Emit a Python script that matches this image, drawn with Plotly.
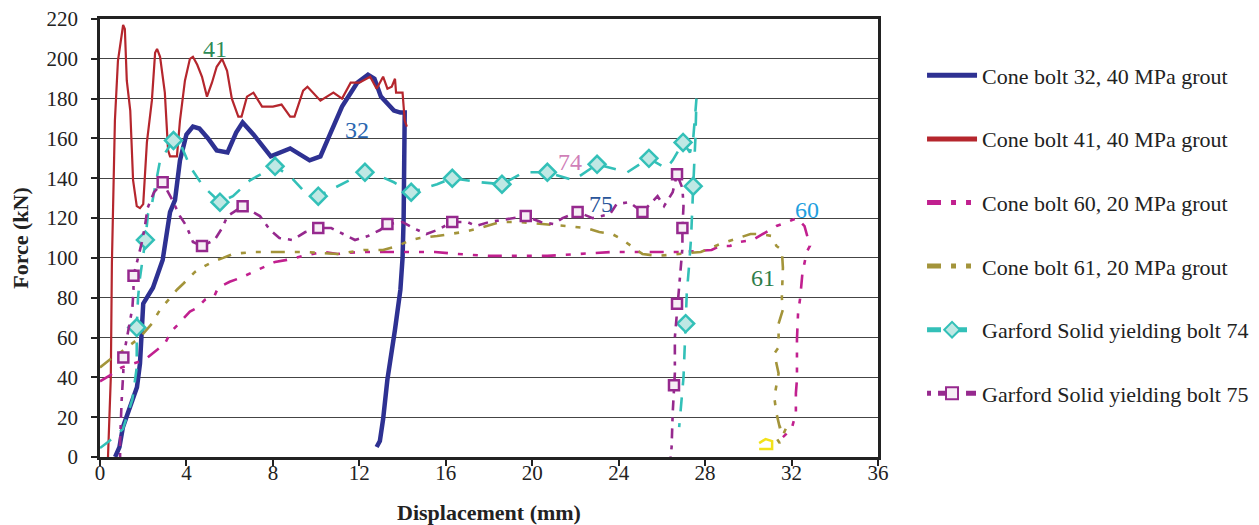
import plotly.graph_objects as go

# ---------------- data ----------------
cb32_x = [0.7, 0.9, 1.06, 1.4, 1.71, 1.85, 2.0, 2.45, 2.9, 3.24, 3.47, 3.7, 4.0, 4.3, 4.6,
          5.0, 5.4, 5.9, 6.3, 6.6, 7.1, 7.9, 8.8, 9.7, 10.2, 10.6, 11.2, 11.9, 12.4, 12.7,
          13.0, 13.6, 13.9, 14.1, 14.1, 14.05, 14.0, 13.9, 13.65, 13.3, 13.1, 12.95, 12.8]
cb32_y = [0, 5, 15, 25, 35, 47, 77, 85, 99, 123, 129, 149, 162, 166, 165,
          160, 154, 153, 163, 168, 162, 151, 155, 149, 151, 161, 176, 188, 192, 190,
          181, 174, 173, 173, 150, 120, 100, 84, 64, 39, 19, 8, 5]

cb41_x = [0.37, 0.45, 0.5, 0.55, 0.6, 0.69, 0.83, 1.0, 1.07, 1.15, 1.24, 1.4, 1.53, 1.7, 1.85,
          2.0, 2.17, 2.4, 2.55, 2.64, 2.78, 3.0, 3.15, 3.24, 3.56, 3.7, 3.93, 4.16, 4.3, 4.5,
          4.72, 4.95, 5.18, 5.4, 5.65, 5.88, 6.1, 6.4, 6.55, 6.8, 7.1, 7.5, 8.0, 8.4, 8.8,
          9.0, 9.4, 9.6, 10.2, 10.8, 11.2, 11.6, 12.0, 12.5, 12.8, 13.1, 13.3, 13.5, 13.65, 13.7,
          13.9, 14.0, 14.1, 14.2]
cb41_y = [0, 20, 40, 97, 129, 169, 199, 211, 217, 215, 189, 174, 139, 126, 125,
          127, 158, 179, 203, 205, 201, 183, 154, 151, 151, 169, 189, 200, 201, 197,
          191, 181, 188, 196, 200, 194, 180, 171, 171, 181, 183, 176, 176, 177, 171,
          171, 184, 186, 179, 183, 180, 188, 188, 191, 185, 191, 185, 186, 190, 183,
          183, 183, 169, 166]

cb60_x = [0, 0.46, 1.0, 1.85, 2.2, 2.55, 3.0, 3.3, 3.8, 4.16, 4.5, 4.86, 5.3, 5.46, 6.0,
          6.5, 7.1, 7.5, 8.1, 8.65, 9.4, 10.3, 11.0, 12.0, 13.4, 14.5, 15.5, 16.5, 18.0, 20.7,
          22.0, 23.7, 25.6, 26.5, 27.0, 28.3, 28.7, 29.15, 29.6, 30.2, 30.7, 31.3, 31.8, 32.25, 32.6,
          32.85, 32.7, 32.5, 32.4, 32.3, 32.25, 32.25, 32.25, 32.2, 32.2, 32.0, 31.6]
cb60_y = [38, 41, 45, 48, 50, 53, 57, 63, 69, 73, 75, 79, 81, 85, 88,
          90, 93, 95, 98, 99, 101, 103, 102, 103, 103, 103, 103, 102, 101, 101,
          102, 103, 103, 103, 103, 104, 106, 106, 108, 109, 112, 116, 118, 120, 116,
          106, 103, 92, 80, 72, 59, 47, 39, 32, 22, 14, 10]

cb61_x = [0, 0.46, 1.0, 1.5, 1.85, 2.0, 2.4, 2.78, 3.1, 3.56, 3.85, 4.4, 4.86, 5.2, 5.7,
          6.15, 7.1, 8.2, 9.4, 11.0, 12.2, 13.1, 13.75, 14.4, 14.8, 15.6, 16.8, 17.6, 18.5, 19.4,
          20.7, 21.6, 22.5, 23.1, 23.7, 24.2, 24.7, 25.1, 25.8, 26.7, 27.8, 28.7, 29.5, 30.1, 30.5,
          31.1, 31.3, 31.55, 31.6, 31.55, 31.6, 31.4, 31.4, 31.2, 31.4, 31.2, 31.3, 31.45, 31.8, 31.45,
          31.15]
cb61_y = [45, 49, 53, 57, 60, 62, 67, 74, 78, 84, 87, 93, 96, 98, 100,
          102, 103, 103, 103, 102, 104, 104, 106, 109, 110, 111, 113, 115, 118, 118,
          117, 116, 115, 113, 112, 109, 105, 102, 101, 102, 103, 107, 110, 112, 112,
          111, 106, 104, 95, 80, 74, 67, 55, 52, 42, 30, 22, 15, 16, 7,
          12]

g74_x = [0, 0.37, 1.06, 1.5, 1.7, 1.7, 1.76, 1.85, 2.1, 2.22, 2.4, 2.78, 3.4, 3.7, 4.16,
         4.77, 5.55, 6.15, 6.94, 8.1, 8.8, 9.4, 10.1, 10.97, 11.9, 12.26, 12.96, 13.6, 14.4, 15.6,
         16.3, 17.6, 18.6, 19.6, 20.7, 21.9, 23.0, 24.4, 25.4, 26.2, 26.5, 26.98, 27.3, 27.45, 27.6,
         27.55, 27.45, 27.35, 27.25, 27.15, 27.1, 27.0, 26.8]
g74_y = [4.5, 7.5, 14, 29, 45, 65, 80, 90, 109, 122, 127, 149, 159, 158, 146,
         136, 128, 131, 139, 146, 141, 134, 131, 136, 141, 143, 141, 138, 133, 137,
         140, 138, 137, 143, 143, 139, 147, 143, 150, 145, 149, 158, 153, 160, 180,
         160, 136, 110, 95, 82, 67, 40, 15]
g74_marks = [5, 8, 12, 16, 19, 22, 25, 28, 30, 32, 34, 36, 38, 41, 46, 50]

g75_x = [0.93, 0.93, 1.0, 1.08, 1.08, 1.5, 1.55, 1.55, 1.76, 1.94, 2.08, 2.2, 2.5, 2.9, 3.3,
         3.7, 4.0, 4.3, 4.72, 5.3, 5.65, 5.9, 6.6, 7.4, 7.87, 8.3, 8.9, 9.5, 10.1, 10.7,
         11.25, 11.8, 12.4, 12.96, 13.3, 14.0, 14.5, 15.1, 15.6, 16.3, 17.0, 17.4, 18.0, 19.1, 19.7,
         20.4, 21.0, 21.4, 22.1, 22.8, 23.6, 23.9, 24.5, 25.1, 25.8, 26.1, 26.5, 26.7, 26.95, 27.0,
         26.95, 26.95, 26.85, 26.7, 26.6, 26.6, 26.56, 26.5, 26.45, 26.4]
g75_y = [0, 8, 28, 43, 50, 75, 84, 91, 100, 108, 116, 125, 133, 138, 130,
         121, 116, 108, 106, 109, 115, 121, 126, 121, 114, 110, 109, 113, 115, 115,
         112, 109, 111, 114, 117, 118, 115, 112, 114, 118, 118, 116, 118, 120, 121,
         118, 117, 120, 123, 120, 122, 127, 128, 123, 131, 126, 133, 142, 135, 126,
         115, 105, 92, 77, 60, 42, 36, 22, 5, 0]
g75_marks = [4, 7, 13, 18, 22, 28, 34, 39, 44, 48, 53, 57, 60, 63, 66]

stray_x = [30.5, 31.1, 31.1, 30.8, 30.5]
stray_y = [4, 4, 8, 9, 7]

x_ticks = [0, 4, 8, 12, 16, 20, 24, 28, 32, 36]
y_ticks = [0, 20, 40, 60, 80, 100, 120, 140, 160, 180, 200, 220]

labels = ["41", "32", "74", "75", "60", "61"]
label_x = [5.3, 11.9, 21.75, 23.2, 32.7, 30.7]
label_y = [205, 164, 148, 127, 124, 90]
label_colors = ["#2e8b57", "#2a66b0", "#d07fb8", "#2a559a", "#1ea0e0", "#2e7d4a"]

names = ["Cone bolt 32, 40 MPa grout", "Cone bolt 41, 40 MPa grout",
         "Cone bolt 60, 20 MPa grout", "Cone bolt 61, 20 MPa grout",
         "Garford Solid yielding bolt 74", "Garford Solid yielding bolt 75"]

# ---------------- figure ----------------
FONT = "Liberation Serif"
fig = go.Figure()

fig.add_trace(go.Scatter(x=cb32_x, y=cb32_y, mode="lines", name=names[0], legendgroup="a",
                         line=dict(color="#2e3192", width=4.5)))
fig.add_trace(go.Scatter(x=cb41_x, y=cb41_y, mode="lines", name=names[1], legendgroup="b",
                         line=dict(color="#b5262d", width=2.2)))
fig.add_trace(go.Scatter(x=cb60_x, y=cb60_y, mode="lines", name=names[2], legendgroup="c",
                         line=dict(color="#c1208f", width=2.6, dash="14px,10px,5px,10px,5px,10px")))
fig.add_trace(go.Scatter(x=cb61_x, y=cb61_y, mode="lines", name=names[3], legendgroup="d",
                         line=dict(color="#a3943a", width=2.6, dash="14px,10px,5px,10px,5px,10px")))
fig.add_trace(go.Scatter(x=g74_x, y=g74_y, mode="lines+markers", name=names[4], legendgroup="e",
                         line=dict(color="#33c0b8", width=2.6, dash="14px,12px"),
                         marker=dict(symbol="diamond", size=13, color="#bfe8e4",
                                     line=dict(color="#33c0b8", width=2.5)),
                         selectedpoints=g74_marks,
                         selected=dict(marker=dict(opacity=1)),
                         unselected=dict(marker=dict(opacity=0))))
fig.add_trace(go.Scatter(x=g75_x, y=g75_y, mode="lines+markers", name=names[5], legendgroup="f",
                         line=dict(color="#96298e", width=2.6, dash="4px,7px,10px,7px"),
                         marker=dict(symbol="square", size=10, color="#f6eef5",
                                     line=dict(color="#96298e", width=2.5)),
                         selectedpoints=g75_marks,
                         selected=dict(marker=dict(opacity=1)),
                         unselected=dict(marker=dict(opacity=0))))
fig.add_trace(go.Scatter(x=stray_x, y=stray_y, mode="lines", showlegend=False,
                         line=dict(color="#f2e21a", width=2.5), hoverinfo="skip"))

for t, lx, ly, c in zip(labels, label_x, label_y, label_colors):
    fig.add_annotation(x=lx, y=ly, text=t, showarrow=False,
                       font=dict(family=FONT, size=24, color=c))

# the page body adds an 8 px margin, so the figure is offset by 8 px here
fig.update_layout(
    width=1259, height=525,
    margin=dict(l=92, r=389, t=11, b=76),
    paper_bgcolor="white", plot_bgcolor="white",
    font=dict(family=FONT, size=21, color="#222"),
    showlegend=True,
    legend=dict(x=1.0566, xanchor="left", y=0.919, yanchor="top",
                font=dict(family=FONT, size=22, color="#222"),
                traceorder="grouped", tracegroupgap=32, itemwidth=50,
                itemsizing="constant", bgcolor="rgba(0,0,0,0)"),
    xaxis=dict(range=[0, 36], tickvals=x_ticks, ticks="outside", ticklen=6,
               tickwidth=1.5, tickcolor="#222", showline=True, linecolor="#222",
               linewidth=2.5, mirror=True, showgrid=False, zeroline=False,
               automargin=False, ticklabelstandoff=-11, ticklabeloverflow="allow",
               tickfont=dict(family=FONT, size=21),
               title=dict(text="<b>Displacement (mm)</b>", font=dict(family=FONT, size=22),
                          standoff=21)),
    yaxis=dict(range=[0, 220], tickvals=y_ticks, ticks="outside", ticklen=6,
               tickwidth=1.5, tickcolor="#222", showline=True, linecolor="#222",
               linewidth=2.5, mirror=True, showgrid=True, gridcolor="#444",
               gridwidth=1, zeroline=False, ticklabelstandoff=9, automargin=False,
               ticklabeloverflow="allow",
               tickfont=dict(family=FONT, size=21),
               title=dict(text="<b>Force (kN)</b>", font=dict(family=FONT, size=22),
                          standoff=15)),
)

fig.write_html("out.html")
